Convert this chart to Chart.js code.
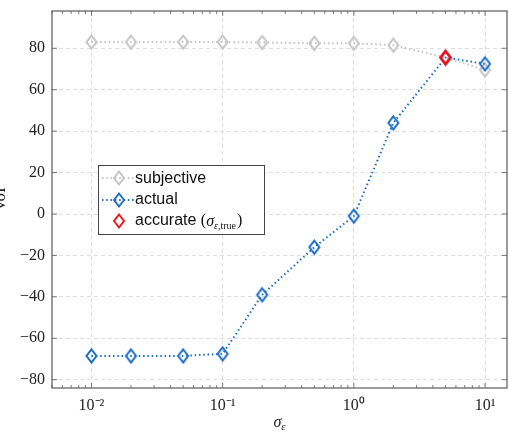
<!DOCTYPE html>
<html>
<head>
<meta charset="utf-8">
<script src="https://cdn.jsdelivr.net/npm/chart.js@4.4.1/dist/chart.umd.min.js"></script>
<style>
  body { margin: 0; background: #fff; }
  #wrap { width: 509px; height: 434px; position: relative; }
</style>
</head>
<body>
<div id="wrap"><canvas id="chart"></canvas></div>
<script>
// data
const sigma        = [0.01, 0.02, 0.05, 0.1, 0.2, 0.5, 1, 2, 5, 10];
const subjective   = [83, 83, 83, 83, 82.8, 82.4, 82.4, 81.5, 75.5, 69.5];
const actual       = [-68.5, -68.5, -68.5, -67.5, -39, -16, -1, 44, 75.5, 72.5];
const accurateSigma = [5];
const accurateVoI   = [75.5];
const xTicks      = [0.01, 0.1, 1, 10];
const xTickLabels = ['10⁻²', '10⁻¹', '10⁰', '10¹'];
const yTicks      = [-80, -60, -40, -20, 0, 20, 40, 60, 80];

const GRAY = '#c4c4c4';
const BLUE = '#1a6cc4';
const RED  = '#f0101a';
const FRAME = '#5a5a5a';

// pgfplots-like diamond (taller than wide)
function diamond(color, lw) {
  const w = 10, h = 13, pad = 2.5;
  const c = document.createElement('canvas');
  c.width = Math.round(w + pad * 2);
  c.height = Math.round(h + pad * 2);
  const g = c.getContext('2d');
  g.strokeStyle = color;
  g.lineWidth = lw;
  g.beginPath();
  g.moveTo(c.width / 2, c.height / 2 - h / 2);
  g.lineTo(c.width / 2 + w / 2, c.height / 2);
  g.lineTo(c.width / 2, c.height / 2 + h / 2);
  g.lineTo(c.width / 2 - w / 2, c.height / 2);
  g.closePath();
  g.stroke();
  return c;
}

function drawDiamond(ctx, x, y, color) {
  ctx.save();
  ctx.strokeStyle = color;
  ctx.lineWidth = 1.9;
  ctx.beginPath();
  ctx.moveTo(x, y - 6.5);
  ctx.lineTo(x + 5, y);
  ctx.lineTo(x, y + 6.5);
  ctx.lineTo(x - 5, y);
  ctx.closePath();
  ctx.stroke();
  ctx.restore();
}

const pts = (xs, ys) => xs.map((x, i) => ({ x: x, y: ys[i] }));

// 枠線・内向きの目盛り・軸タイトル・凡例
const decorPlugin = {
  id: 'decor',
  afterDraw(chart) {
    const ctx = chart.ctx;
    const a = chart.chartArea;
    const xs = chart.scales.x, ys = chart.scales.y;
    ctx.save();
    ctx.strokeStyle = FRAME;
    ctx.lineWidth = 1.2;
    ctx.strokeRect(a.left, a.top, a.right - a.left, a.bottom - a.top);

    // x ticks (major + minor), bottom and top
    ctx.lineWidth = 0.8;
    ctx.beginPath();
    for (let d = -3; d <= 1; d++) {
      for (let k = 1; k <= 9; k++) {
        const v = k * Math.pow(10, d);
        if (v < xs.min || v > xs.max) continue;
        const px = xs.getPixelForValue(v);
        const len = k === 1 ? 5 : 3;
        ctx.moveTo(px, a.bottom); ctx.lineTo(px, a.bottom - len);
        ctx.moveTo(px, a.top);    ctx.lineTo(px, a.top + len);
      }
    }
    // y ticks, left and right
    yTicks.forEach(v => {
      const py = ys.getPixelForValue(v);
      ctx.moveTo(a.left, py);  ctx.lineTo(a.left + 5, py);
      ctx.moveTo(a.right, py); ctx.lineTo(a.right - 5, py);
    });
    ctx.stroke();

    // axis titles
    ctx.fillStyle = '#222';
    const cx = (a.left + a.right) / 2;
    ctx.textBaseline = 'alphabetic';
    ctx.font = 'italic 16px "Liberation Serif"';
    const sw = ctx.measureText('σ').width;
    ctx.font = 'italic 11px "Liberation Serif"';
    const ew = ctx.measureText('ε').width;
    ctx.font = 'italic 16px "Liberation Serif"';
    ctx.fillText('σ', cx - (sw + ew) / 2, 427);
    ctx.font = 'italic 11px "Liberation Serif"';
    ctx.fillText('ε', cx - (sw + ew) / 2 + sw, 430);

    ctx.save();
    ctx.translate(5, (a.top + a.bottom) / 2);
    ctx.rotate(-Math.PI / 2);
    ctx.font = '17px "Liberation Serif"';
    ctx.textAlign = 'center';
    ctx.fillText('VoI', 0, 0);
    ctx.restore();

    // legend
    const lx = 98, ly = 165, lw = 166, lh = 69;
    ctx.fillStyle = '#fff';
    ctx.fillRect(lx, ly, lw, lh);
    ctx.strokeStyle = '#444';
    ctx.lineWidth = 1;
    ctx.strokeRect(lx + 0.5, ly + 0.5, lw, lh);

    const rows = [
      { y: 178, color: GRAY, line: true },
      { y: 200, color: BLUE, line: true },
      { y: 221, color: RED,  line: false }
    ];
    rows.forEach(r => {
      if (r.line) {
        ctx.save();
        ctx.strokeStyle = r.color;
        ctx.lineWidth = 2;
        ctx.setLineDash([1.5, 2.8]);
        ctx.beginPath();
        ctx.moveTo(102, r.y); ctx.lineTo(134, r.y);
        ctx.stroke();
        ctx.restore();
      }
      drawDiamond(ctx, 119, r.y, r.color);
    });
    ctx.fillStyle = '#111';
    ctx.textBaseline = 'middle';
    ctx.font = '16px "Liberation Sans"';
    ctx.fillText('subjective', 135, 179);
    ctx.fillText('actual', 135, 200);
    ctx.fillText('accurate ', 135, 221);
    let tx = 135 + ctx.measureText('accurate ').width;
    ctx.font = '16px "Liberation Serif"';
    ctx.fillText('(', tx, 221);
    tx += ctx.measureText('(').width;
    ctx.font = 'italic 16px "Liberation Serif"';
    ctx.fillText('σ', tx, 222);
    tx += ctx.measureText('σ').width;
    ctx.font = 'italic 10px "Liberation Serif"';
    ctx.fillText('ε', tx, 226);
    tx += ctx.measureText('ε').width;
    ctx.font = '10px "Liberation Serif"';
    ctx.fillText(',true', tx, 226);
    tx += ctx.measureText(',true').width + 1;
    ctx.font = '16px "Liberation Serif"';
    ctx.fillText(')', tx, 221);
    ctx.restore();
  }
};

const ctx = document.getElementById('chart').getContext('2d');
new Chart(ctx, {
  type: 'line',
  data: {
    datasets: [
      {
        label: 'accurate',
        data: pts(accurateSigma, accurateVoI),
        showLine: false,
        pointStyle: diamond(RED, 2.6),
        order: 0
      },
      {
        label: 'actual',
        data: pts(sigma, actual),
        borderColor: BLUE,
        borderWidth: 2,
        borderDash: [1.5, 2.8],
        pointStyle: diamond(BLUE, 2),
        order: 1
      },
      {
        label: 'subjective',
        data: pts(sigma, subjective),
        borderColor: GRAY,
        borderWidth: 2,
        borderDash: [1.5, 2.8],
        pointStyle: diamond(GRAY, 2),
        order: 2
      }
    ]
  },
  options: {
    responsive: true,
    maintainAspectRatio: false,
    animation: false,
    layout: { autoPadding: false, padding: { top: 11, right: 2, left: 0, bottom: 0 } },
    plugins: {
      legend: { display: false },
      tooltip: { enabled: false }
    },
    scales: {
      x: {
        type: 'logarithmic',
        min: 0.005,
        max: 14.7,
        afterBuildTicks: s => { s.ticks = xTicks.map(v => ({ value: v })); },
        afterFit: s => { s.height = 46; s.paddingLeft = 0; s.paddingRight = 0; },
        ticks: {
          padding: 8,
          autoSkip: false,
          maxRotation: 0,
          color: '#222',
          font: { family: '"Liberation Serif"', size: 16 },
          callback: v => xTickLabels[xTicks.indexOf(v)]
        },
        grid: { color: '#dedede', lineWidth: 1, drawTicks: false, tickLength: 0 },
        border: { display: false, dash: [4, 3] }
      },
      y: {
        type: 'linear',
        min: -84,
        max: 98,
        afterBuildTicks: s => { s.ticks = yTicks.map(v => ({ value: v })); },
        afterFit: s => { s.width = 52; s.paddingTop = 0; s.paddingBottom = 0; },
        ticks: {
          padding: 7,
          color: '#222',
          font: { family: '"Liberation Serif"', size: 16 },
          callback: v => v < 0 ? '−' + Math.abs(v) : '' + v
        },
        grid: { color: '#dedede', lineWidth: 1, drawTicks: false, tickLength: 0 },
        border: { display: false, dash: [4, 3] }
      }
    }
  },
  plugins: [decorPlugin]
});
</script>
</body>
</html>
